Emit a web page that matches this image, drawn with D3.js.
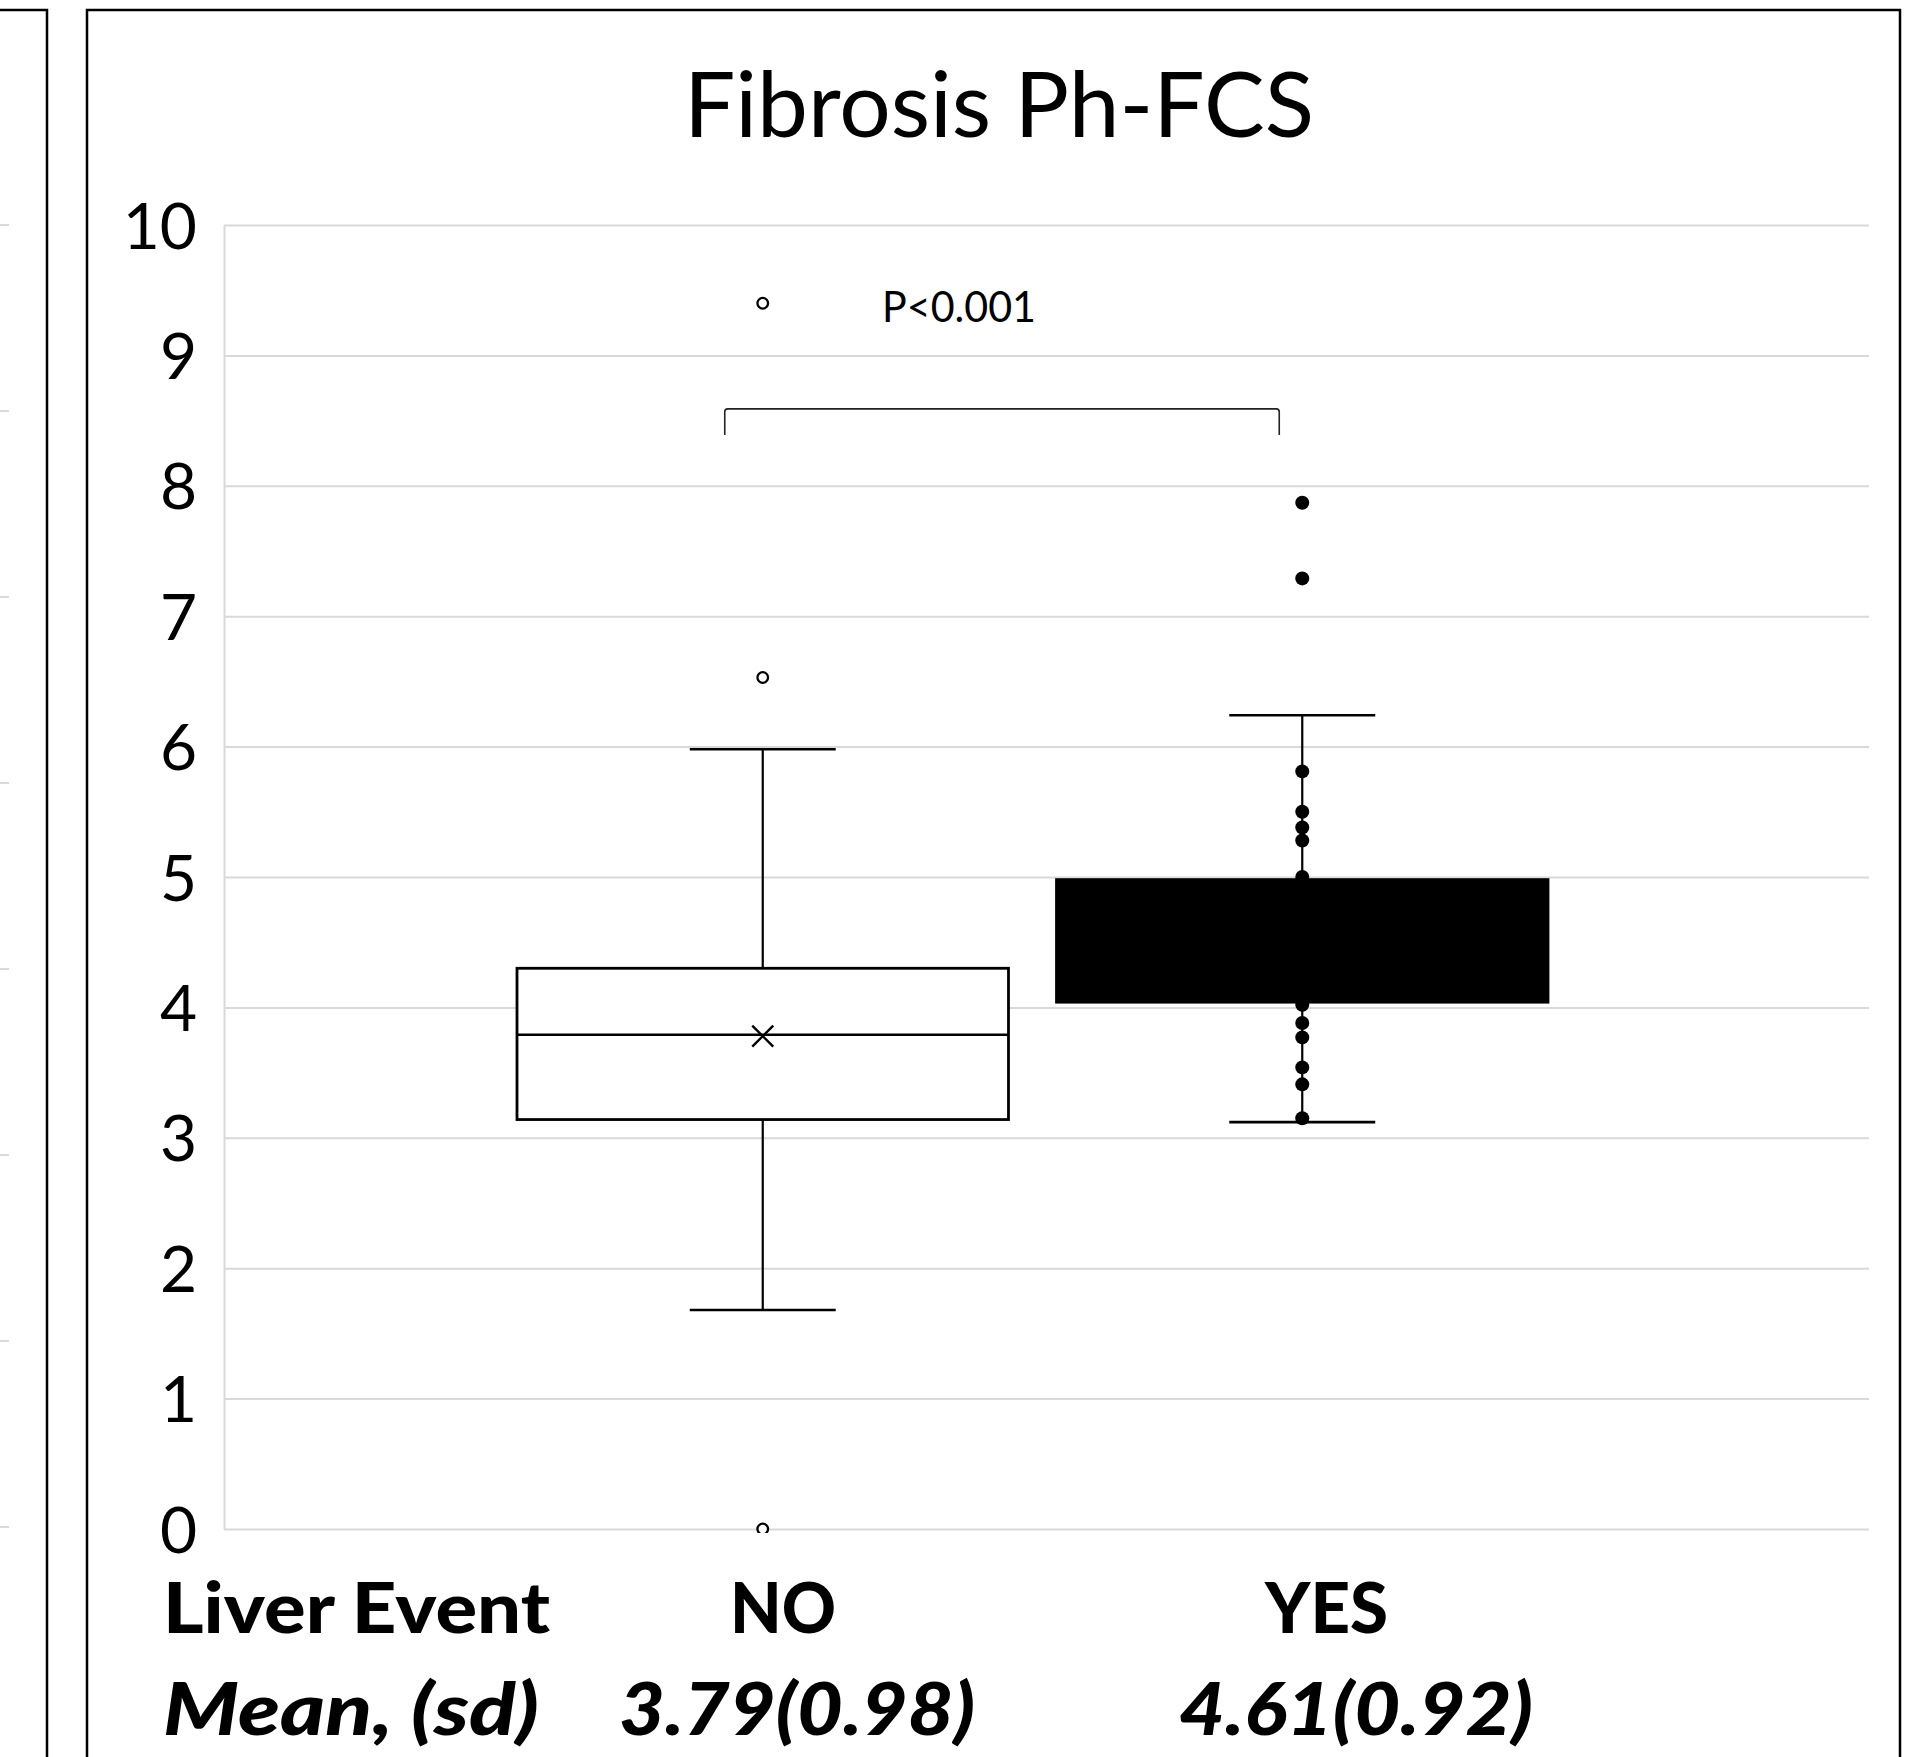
<!DOCTYPE html>
<html>
<head>
<meta charset="utf-8">
<script src="https://cdn.jsdelivr.net/npm/d3@7/dist/d3.min.js"></script>
<style>
  html, body { margin: 0; padding: 0; background: #fff; }
  svg { display: block; }
</style>
</head>
<body>
<script>
// ---------------- data ----------------
const categories = ["NO", "YES"];
const q1Values = [3.14, 4.04];
const medianValues = [3.79, 4.55];
const q3Values = [4.30, 4.98];
const meanValues = [3.78, 4.61];
const whiskerLowValues = [1.68, 3.12];
const whiskerHighValues = [5.98, 6.24];
const outliersNO = [9.40, 6.53, 0];
const outliersYES = [7.87, 7.29];
const innerPointsYES = [5.81, 5.50, 5.38, 5.28, 5.00, 4.02, 3.88, 3.77, 3.54, 3.41, 3.15];
const yTicks = [0, 1, 2, 3, 4, 5, 6, 7, 8, 9, 10];
const leftPanelGrid = [0, 1, 2, 3, 4, 5, 6, 7];
const titleText = "Fibrosis Ph-FCS";
const pValueText = "P<0.001";
const rowLabels = ["Liver Event", "Mean, (sd)"];
const meanSdLabels = ["3.79(0.98)", "4.61(0.92)"];

// ---------------- layout ----------------
const W = 1907, H = 1757;
const plotLeft = 224, plotRight = 1869, plotTop = 225, plotBottom = 1529;
const font = "Lato, 'Open Sans', sans-serif";

const svg = d3.select("body").append("svg")
  .attr("width", W).attr("height", H)
  .attr("viewBox", `0 0 ${W} ${H}`);

svg.append("rect").attr("width", W).attr("height", H).attr("fill", "#fff");

// Left partial panel (neighbouring chart)
const yLeft = d3.scaleLinear().domain([0, 7]).range([1527, 225]);
svg.append("g").selectAll("line").data(leftPanelGrid).join("line")
  .attr("x1", 0).attr("x2", 9)
  .attr("y1", d => yLeft(d)).attr("y2", d => yLeft(d))
  .attr("stroke", "#d9d9d9").attr("stroke-width", 2);
svg.append("path")
  .attr("d", `M0,10 H47 V${H + 5}`)
  .attr("fill", "none").attr("stroke", "#000").attr("stroke-width", 2.5);

// Main frame
svg.append("path")
  .attr("d", `M87,${H + 5} V10 H1900 V${H + 5}`)
  .attr("fill", "none").attr("stroke", "#000").attr("stroke-width", 2.5);

// Title
svg.append("text")
  .attr("x", 999).attr("y", 137)
  .attr("text-anchor", "middle")
  .attr("font-family", font).attr("font-size", 91)
  .attr("textLength", 630).attr("lengthAdjust", "spacingAndGlyphs")
  .attr("fill", "#000")
  .text(titleText);

// Scales
const y = d3.scaleLinear().domain([0, 10]).range([plotBottom, plotTop]);
const x = d3.scaleBand().domain(categories).range([517, 1548]).paddingInner(0.089).paddingOuter(0);
const bw = x.bandwidth();
const cx = c => x(c) + bw / 2;
const capW = bw * 0.297;

// Axis with gridlines
const axis = d3.axisLeft(y).tickValues(yTicks)
  .tickSizeInner(-(plotRight - plotLeft)).tickSizeOuter(0)
  .tickPadding(27).tickFormat(d3.format("d"));
const gAxis = svg.append("g").attr("transform", `translate(${plotLeft},0)`).call(axis);
gAxis.select(".domain").attr("stroke", "#d9d9d9").attr("stroke-width", 2);
gAxis.selectAll(".tick line").attr("stroke", "#d9d9d9").attr("stroke-width", 2);
gAxis.selectAll(".tick text")
  .attr("font-family", font).attr("font-size", 64).attr("fill", "#000")
  .attr("dy", "0.36em");

// Clip for plot
svg.append("clipPath").attr("id", "plotClip")
  .append("rect").attr("x", plotLeft - 20).attr("y", plotTop - 20)
  .attr("width", plotRight - plotLeft + 40).attr("height", plotBottom - plotTop + 24);

const plot = svg.append("g").attr("clip-path", "url(#plotClip)");

const boxes = categories.map((c, i) => ({
  cat: c, q1: q1Values[i], med: medianValues[i], q3: q3Values[i], mean: meanValues[i],
  lo: whiskerLowValues[i], hi: whiskerHighValues[i], filled: i === 1
}));

boxes.forEach(b => {
  const g = plot.append("g");
  const c = cx(b.cat);
  // whiskers
  g.append("line").attr("x1", c).attr("x2", c).attr("y1", y(b.q3)).attr("y2", y(b.hi))
    .attr("stroke", "#000").attr("stroke-width", 2.2);
  g.append("line").attr("x1", c).attr("x2", c).attr("y1", y(b.q1)).attr("y2", y(b.lo))
    .attr("stroke", "#000").attr("stroke-width", 2.2);
  g.append("line").attr("x1", c - capW / 2).attr("x2", c + capW / 2).attr("y1", y(b.hi)).attr("y2", y(b.hi))
    .attr("stroke", "#000").attr("stroke-width", 2.6);
  g.append("line").attr("x1", c - capW / 2).attr("x2", c + capW / 2).attr("y1", y(b.lo)).attr("y2", y(b.lo))
    .attr("stroke", "#000").attr("stroke-width", 2.6);
  // box
  g.append("rect").attr("x", x(b.cat)).attr("width", bw)
    .attr("y", y(b.q3)).attr("height", y(b.q1) - y(b.q3))
    .attr("fill", b.filled ? "#000" : "#fff")
    .attr("stroke", "#000").attr("stroke-width", 2.8);
  // median
  g.append("line").attr("x1", x(b.cat)).attr("x2", x(b.cat) + bw)
    .attr("y1", y(b.med)).attr("y2", y(b.med))
    .attr("stroke", "#000").attr("stroke-width", 2.5);
  // mean marker (x)
  const s = 10.5, my = y(b.mean);
  g.append("path")
    .attr("d", `M${c - s},${my - s} L${c + s},${my + s} M${c - s},${my + s} L${c + s},${my - s}`)
    .attr("stroke", "#000").attr("stroke-width", 2.4).attr("fill", "none");
});

// NO outliers (open circles)
plot.append("g").selectAll("circle").data(outliersNO).join("circle")
  .attr("cx", cx("NO")).attr("cy", d => y(d)).attr("r", 5.3)
  .attr("fill", "#fff").attr("stroke", "#000").attr("stroke-width", 2.3);

// YES outliers and inner points (filled)
plot.append("g").selectAll("circle").data(outliersYES.concat(innerPointsYES)).join("circle")
  .attr("cx", cx("YES")).attr("cy", d => y(d)).attr("r", 7)
  .attr("fill", "#000").attr("stroke", "none");

// Significance bracket
const bTop = y(8.59), bBot = y(8.39);
const bL = cx("NO") - 38, bR = cx("YES") - 23;
svg.append("path")
  .attr("d", `M${bL},${bBot} V${bTop + 3} Q${bL},${bTop} ${bL + 3},${bTop} H${bR - 3} Q${bR},${bTop} ${bR},${bTop + 3} V${bBot}`)
  .attr("fill", "none").attr("stroke", "#222").attr("stroke-width", 1.6);

svg.append("text")
  .attr("x", 882).attr("y", 322)
  .attr("font-family", font).attr("font-size", 42)
  .attr("textLength", 154).attr("lengthAdjust", "spacingAndGlyphs")
  .attr("fill", "#000").text(pValueText);

// Bottom table labels
const boldRow = [
  { t: rowLabels[0], x: 163, w: 387 },
  { t: categories[0], x: 730, w: 106 },
  { t: categories[1], x: 1265, w: 123 }
];
svg.append("g").selectAll("text").data(boldRow).join("text")
  .attr("x", d => d.x).attr("y", 1633)
  .attr("font-family", font).attr("font-size", 71).attr("font-weight", 900)
  .attr("textLength", d => d.w).attr("lengthAdjust", "spacingAndGlyphs")
  .attr("fill", "#000").text(d => d.t);

const italicRow = [
  { t: rowLabels[1], x: 163, w: 376 },
  { t: meanSdLabels[0], x: 619, w: 356 },
  { t: meanSdLabels[1], x: 1179, w: 354 }
];
svg.append("g").selectAll("text").data(italicRow).join("text")
  .attr("x", d => d.x).attr("y", 1735)
  .attr("font-family", font).attr("font-size", 72).attr("font-weight", 900).attr("font-style", "italic")
  .attr("textLength", d => d.w).attr("lengthAdjust", "spacingAndGlyphs")
  .attr("fill", "#000").text(d => d.t);
</script>
</body>
</html>
